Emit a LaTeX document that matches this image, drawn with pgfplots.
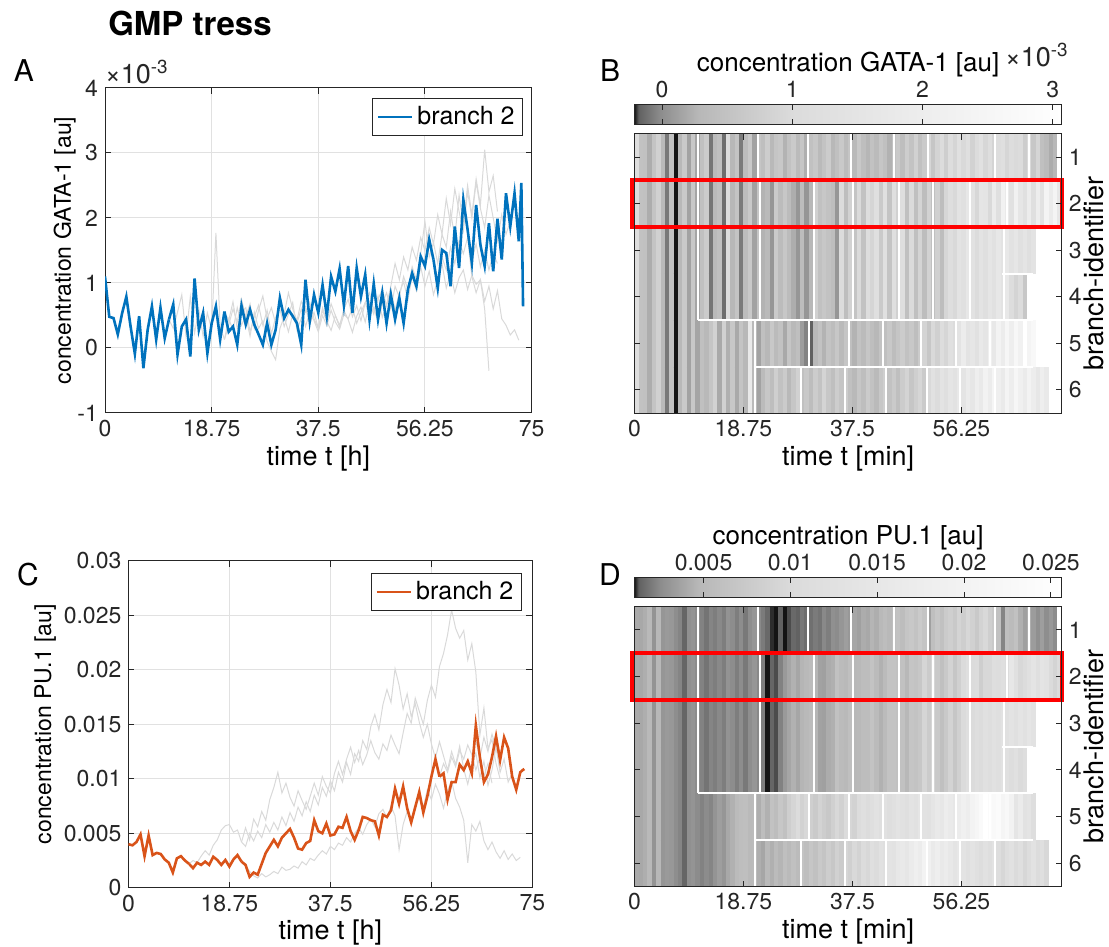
\documentclass[border=0pt]{standalone}
\usepackage{fontspec}
\setmainfont{TeX Gyre Heros}
\usepackage{pgfplots}
\usepackage{pgfplotstable}
\usetikzlibrary{calc}
\pgfplotsset{compat=1.18}

\definecolor{mblue}{RGB}{0,114,189}
\definecolor{morange}{RGB}{217,83,25}
\definecolor{axgray}{RGB}{38,38,38}
\definecolor{gridc}{RGB}{225,225,225}
\definecolor{lgray}{RGB}{217,217,217}

\newcommand{\tickfont}{\fontsize{11.5}{13}\selectfont}
\newcommand{\labfont}{\fontsize{13.5}{15}\selectfont}

% tree segments: t [h], g = GATA-1 (x1e-3), p = PU.1 (x1e-3)
\pgfplotstableread{
t g p
0.00 1.10 4.0
0.75 0.48 3.9
1.50 0.46 4.2
2.25 0.21 4.9
3.00 0.53 2.9
3.75 0.79 4.8
4.50 0.33 3.0
5.25 -0.09 3.2
6.00 0.49 3.1
6.75 -0.31 2.6
7.50 0.28 2.3
8.25 0.64 1.4
9.00 0.13 2.7
9.75 0.62 2.9
10.50 0.15 2.5
11.25 0.44 2.2
}\Szero
\pgfplotstableread{
t g p
11.25 0.44 2.2
12.00 0.67 1.8
12.75 -0.10 2.3
13.50 0.33 2.1
14.25 0.44 2.4
15.00 -0.13 2.1
15.75 1.07 2.85
16.50 0.28 2.55
17.25 0.54 2.1
18.00 -0.08 2.55
18.75 0.38 1.95
19.50 0.64 2.6
20.25 0.13 3.0
21.00 0.56 2.4
}\SA
\pgfplotstableread{
t g p
11.25 0.44 2.2
12.00 0.30 2.5
12.75 0.55 2.3
13.50 0.82 2.9
14.25 0.18 3.4
15.00 0.79 3.0
15.75 0.23 3.9
16.50 0.59 4.4
17.25 0.18 5.3
18.00 0.54 5.7
18.75 0.28 5.8
19.50 1.77 5.1
20.25 0.33 5.3
21.00 0.13 4.2
}\SB
\pgfplotstableread{
t g p
21.00 0.56 2.4
21.75 0.25 2.1
22.50 0.33 1.0
23.25 0.05 1.4
24.00 0.65 1.2
24.75 0.36 2.2
25.50 0.59 3.2
26.25 0.36 3.8
27.00 0.21 4.4
27.75 0.05 3.8
28.50 0.38 4.6
29.25 0.05 5.0
30.00 0.28 5.4
30.75 0.77 4.6
31.50 0.46 3.6
32.25 0.59 3.5
33.00 0.49 4.1
33.75 0.38 4.3
34.50 0.05 6.2
35.25 1.05 5.2
36.00 0.41 5.0
36.75 0.82 5.9
37.50 0.54 4.8
38.25 0.97 4.9
39.00 0.49 5.6
39.75 1.10 5.5
40.50 0.87 6.5
41.25 1.22 5.2
42.00 0.66 4.4
42.75 1.26 5.3
43.50 0.54 6.5
44.25 1.23 6.4
45.00 0.79 6.2
45.75 1.13 6.1
46.50 0.44 4.8
47.25 0.99 6.7
48.00 0.44 6.5
48.75 0.85 7.1
49.50 0.38 9.1
50.25 0.82 7.7
51.00 0.44 9.3
51.75 0.77 7.3
52.50 0.38 6.0
53.25 0.90 7.4
54.00 1.15 8.8
54.75 0.95 6.9
55.50 1.41 8.4
56.25 1.26 10.2
57.00 1.67 11.8
57.75 1.36 10.2
}\Sbcd
\pgfplotstableread{
t g p
57.75 1.36 10.2
58.50 0.92 10.5
59.25 1.51 8.1
60.00 1.46 9.7
60.75 0.95 9.7
61.50 1.87 11.3
62.25 1.23 10.8
63.00 2.28 11.6
63.75 1.82 10.5
64.50 1.31 14.9
65.25 2.20 12.0
66.00 1.59 9.7
66.75 1.26 10.4
67.50 1.92 12.0
68.25 1.18 13.9
69.00 1.99 11.7
69.75 1.36 13.8
70.50 2.38 12.8
71.25 1.87 10.2
72.00 2.38 9.0
72.75 1.64 10.6
73.20 2.54 10.8
73.50 0.64 10.9
}\Stwo
\pgfplotstableread{
t g p
57.75 1.36 10.2
58.50 1.05 11.4
59.25 1.40 10.6
60.00 1.20 12.0
60.75 1.55 11.1
61.50 1.30 12.6
62.25 1.65 11.8
63.00 1.45 13.1
63.75 1.70 12.2
}\Scd
\pgfplotstableread{
t g p
63.75 1.70 12.2
64.50 1.35 13.5
65.25 1.60 11.9
66.00 1.25 13.8
66.75 1.50 12.5
67.50 1.20 14.1
68.25 1.45 12.8
69.00 1.30 11.6
}\Sthree
\pgfplotstableread{
t g p
63.75 1.70 12.2
64.50 1.10 10.8
65.25 0.85 12.0
66.00 1.05 10.2
66.75 0.60 11.4
67.50 -0.35 9.6
}\Sfour
\pgfplotstableread{
t g p
21.00 0.56 2.4
21.75 0.42 2.0
22.50 0.71 1.5
23.25 0.30 1.1
24.00 0.55 0.9
24.75 0.62 1.3
25.50 0.25 1.0
26.25 0.48 1.2
27.00 0.66 1.5
27.75 0.35 1.3
28.50 0.58 1.9
29.25 0.22 1.6
30.00 0.47 1.7
30.75 0.60 2.0
31.50 0.33 1.8
32.25 0.52 2.4
33.00 0.70 2.1
33.75 0.28 2.7
34.50 0.45 2.5
35.25 0.63 3.0
36.00 0.37 3.4
36.75 0.55 3.1
37.50 0.30 3.8
38.25 0.62 3.5
39.00 0.41 4.1
39.75 0.27 3.9
40.50 0.50 4.6
41.25 0.35 4.2
42.00 0.58 5.0
42.75 0.44 5.5
43.50 0.24 4.9
44.25 0.49 5.8
45.00 0.63 6.3
45.75 0.40 5.6
46.50 0.71 6.8
47.25 0.52 7.2
48.00 0.80 6.4
48.75 0.47 7.5
49.50 0.66 6.6
50.25 0.90 3.5
51.00 0.58 5.8
51.75 0.85 7.0
52.50 1.02 6.2
53.25 0.74 7.6
54.00 1.10 8.2
54.75 0.88 7.4
55.50 1.25 9.0
56.25 0.95 8.1
57.00 1.18 9.5
57.75 0.82 8.6
58.50 1.05 7.3
59.25 1.30 8.9
60.00 0.92 9.8
60.75 1.15 8.2
61.50 0.85 7.4
62.25 1.08 6.2
63.00 1.20 2.3
63.75 0.90 5.8
64.50 1.12 5.2
65.25 0.98 6.1
66.00 1.05 4.3
66.75 0.72 3.5
67.50 0.95 4.2
68.25 0.60 3.3
69.00 0.88 2.7
69.75 0.45 3.4
70.50 0.35 2.6
71.25 0.20 3.1
72.00 0.28 2.5
72.75 0.12 2.8
}\Sone
\pgfplotstableread{
t g p
21.00 0.13 4.2
21.75 0.45 5.5
22.50 0.28 4.4
23.25 0.62 6.3
24.00 0.35 5.6
24.75 0.50 7.0
25.50 0.18 6.2
26.25 0.55 8.1
27.00 0.30 9.2
27.75 0.42 10.6
28.50 0.10 8.7
29.25 -0.05 9.6
30.00 -0.18 8.3
30.75 0.30 7.5
31.50 0.48 8.9
32.25 0.25 8.0
33.00 0.52 7.2
33.75 0.38 8.4
34.50 0.60 9.6
35.25 0.33 8.5
36.00 0.55 10.2
36.75 0.42 9.3
37.50 0.25 8.7
38.25 0.50 10.5
39.00 0.34 11.6
39.75 0.58 10.4
40.50 0.40 11.8
41.25 0.29 12.9
42.00 0.52 11.5
42.75 0.45 12.6
43.50 0.62 11.3
44.25 0.38 12.2
45.00 0.55 13.5
45.75 0.70 12.4
46.50 0.48 11.8
47.25 0.62 13.2
48.00 0.40 12.6
48.75 0.68 14.0
49.50 0.85 13.1
50.25 0.60 12.3
51.00 0.95 14.2
51.75 0.78 16.0
52.50 1.10 15.1
53.25 0.90 17.4
54.00 1.25 16.2
54.75 1.05 15.0
55.50 1.45 17.2
56.25 1.95 18.6
57.00 1.40 17.5
57.75 1.62 20.3
58.50 1.30 21.5
59.25 1.75 23.2
60.00 1.55 25.5
60.75 2.10 23.8
61.50 1.70 22.9
62.25 2.35 23.6
63.00 1.90 20.9
63.75 2.50 22.4
64.50 2.05 19.8
65.25 2.60 14.0
66.00 2.20 16.5
66.75 3.05 12.8
67.50 2.40 13.6
68.25 2.65 11.4
69.00 2.10 10.0
}\Sfive
\pgfplotstableread{
t g p
21.00 0.13 4.2
21.75 0.35 3.8
22.50 0.60 5.0
23.25 0.40 4.3
24.00 0.75 5.2
24.75 0.48 4.6
25.50 0.68 5.8
26.25 0.30 5.1
27.00 0.58 6.0
27.75 0.80 5.3
28.50 0.45 6.5
29.25 0.62 5.7
30.00 0.38 6.9
30.75 0.70 6.1
31.50 0.52 7.4
32.25 0.85 6.6
33.00 0.60 7.9
33.75 0.42 7.0
34.50 0.72 8.5
35.25 0.55 7.6
36.00 0.70 9.2
36.75 0.45 8.4
37.50 0.30 9.8
38.25 0.58 8.9
39.00 0.40 10.6
39.75 0.68 9.7
40.50 0.50 11.5
41.25 0.32 10.4
42.00 0.60 12.3
42.75 0.75 11.6
43.50 0.48 13.5
44.25 0.65 12.7
45.00 0.42 14.8
45.75 0.70 15.9
46.50 0.85 14.5
47.25 0.58 16.8
48.00 0.75 18.2
48.75 0.90 17.0
49.50 0.65 20.1
50.25 0.95 18.6
51.00 1.30 16.4
51.75 1.05 17.8
52.50 1.40 15.7
53.25 1.20 16.9
54.00 1.55 15.2
54.75 1.35 13.8
55.50 1.70 15.0
56.25 1.50 13.2
57.00 1.85 11.9
57.75 1.60 13.4
58.50 2.05 12.1
59.25 1.75 10.8
60.00 2.30 12.5
60.75 1.90 11.3
61.50 2.45 13.0
62.25 2.10 10.9
63.00 1.80 9.5
63.75 2.40 11.2
64.50 2.00 12.4
65.25 2.55 10.1
66.00 2.15 11.6
66.75 1.85 9.4
67.50 2.35 10.8
68.25 2.00 12.9
69.00 1.65 10.6
69.75 2.05 11.8
70.50 1.75 9.7
71.25 1.95 10.5
}\Ssix

\pgfplotsset{
  colormap={hmap}{gray(0mm)=(0.08); gray(1mm)=(0.38); gray(6mm)=(0.55); gray(15mm)=(0.72); gray(37mm)=(0.86); gray(67mm)=(0.93); gray(100mm)=(1)},
  base/.style={scale only axis, anchor=south west,
    axis line style={axgray, line width=0.5pt}, tick style={axgray, line width=0.5pt},
    tick align=inside, major tick length=3pt,
    ticklabel style={font=\tickfont, text=axgray},
    label style={font=\labfont, text=black},
    xlabel shift=-2.5pt,
    /pgf/number format/assume math mode=true},
  heat/.style={base, width=213.7pt, xmin=0, xmax=73.5, ymin=0.5, ymax=6.5, y dir=reverse,
    xtick={0,18.75,37.5,56.25}, xticklabels={0,18.75,37.5,56.25},
    ytick={1,2,3,4,5,6}, yticklabels={1,2,3,4,5,6}, yticklabel pos=right,
    xlabel={time t [min]}, ylabel={branch-identifier}, ylabel shift=-6pt,
    colormap name=hmap, axis on top, clip=false,
    colorbar horizontal,
    colorbar shift/.style={},
    colorbar style={at={($(parent axis.north west)+(0pt,4.8pt)$)}, anchor=south west,
      width=213.7pt, height=9.7pt, scale only axis, xticklabel pos=upper,
      tick align=inside, major tick length=2.5pt,
      axis line style={axgray, line width=0.5pt}, tick style={axgray, line width=0.5pt},
      ticklabel style={font=\tickfont, text=axgray},
      xlabel style={font=\fontsize{13}{15}\selectfont}, xlabel shift=-5pt,
      /pgf/number format/assume math mode=true}},
  line/.style={base, grid=major, grid style={gridc, line width=0.5pt}, xmin=0, xmax=75,
    xtick={0,18.75,37.5,56.25,75}, xticklabels={0,18.75,37.5,56.25,75},
    xlabel={time t [h]},
    legend style={font=\fontsize{12.5}{14}\selectfont, draw=axgray, line width=0.5pt, inner sep=2pt},
    legend cell align=left}
}

\newcommand{\hrow}[3]{\addplot[mesh, shader=flat corner, line width=23.4pt, point meta=explicit, forget plot] table[x=t, y expr=#2, meta=#3] {#1};}
\newcommand{\gline}[2]{\addplot[lgray, line width=0.5pt, forget plot] table[x=t, y=#2] {#1};}
\newcommand{\heatrows}[1]{%
  \hrow{\Szero}{1}{#1}\hrow{\Szero}{2}{#1}\hrow{\Szero}{3}{#1}\hrow{\Szero}{4}{#1}\hrow{\Szero}{5}{#1}\hrow{\Szero}{6}{#1}%
  \hrow{\SA}{1}{#1}\hrow{\SA}{2}{#1}\hrow{\SA}{3}{#1}\hrow{\SA}{4}{#1}%
  \hrow{\SB}{5}{#1}\hrow{\SB}{6}{#1}%
  \hrow{\Sone}{1}{#1}%
  \hrow{\Sbcd}{2}{#1}\hrow{\Sbcd}{3}{#1}\hrow{\Sbcd}{4}{#1}%
  \hrow{\Stwo}{2}{#1}%
  \hrow{\Scd}{3}{#1}\hrow{\Scd}{4}{#1}%
  \hrow{\Sthree}{3}{#1}\hrow{\Sfour}{4}{#1}%
  \hrow{\Sfive}{5}{#1}\hrow{\Ssix}{6}{#1}%
  \addplot[white, line width=1pt, unbounded coords=jump, forget plot] coordinates {
    (10.9,0.5)(10.9,4.5) (nan,nan)
    (21.3,0.5)(21.3,1.5) (nan,nan) (29.9,0.5)(29.9,1.5) (nan,nan) (37.2,0.5)(37.2,1.5) (nan,nan)
    (44.7,0.5)(44.7,1.5) (nan,nan) (50.5,0.5)(50.5,1.5) (nan,nan) (62.0,0.5)(62.0,1.5) (nan,nan)
    (67.8,0.5)(67.8,1.5) (nan,nan)
    (21.6,1.5)(21.6,4.5) (nan,nan) (30.8,1.5)(30.8,4.5) (nan,nan) (37.6,1.5)(37.6,4.5) (nan,nan)
    (45.5,1.5)(45.5,4.5) (nan,nan) (51.4,1.5)(51.4,4.5) (nan,nan) (57.7,1.5)(57.7,4.5) (nan,nan)
    (64.0,1.5)(64.0,2.5) (nan,nan) (63.6,2.5)(63.6,4.5) (nan,nan)
    (20.7,4.5)(20.7,6.5) (nan,nan) (30.0,4.5)(30.0,5.5) (nan,nan) (36.9,4.5)(36.9,5.5) (nan,nan)
    (42.7,4.5)(42.7,5.5) (nan,nan) (49.3,4.5)(49.3,5.5) (nan,nan) (55.3,4.5)(55.3,5.5) (nan,nan)
    (61.1,4.5)(61.1,5.5) (nan,nan)
    (28.7,5.5)(28.7,6.5) (nan,nan) (36.3,5.5)(36.3,6.5) (nan,nan) (43.3,5.5)(43.3,6.5) (nan,nan)
    (50.4,5.5)(50.4,6.5) (nan,nan) (56.0,5.5)(56.0,6.5) (nan,nan) (62.0,5.5)(62.0,6.5) (nan,nan)
    (10.9,4.5)(68.6,4.5) (nan,nan) (20.5,5.5)(68.6,5.5) (nan,nan) (21.2,1.5)(73.5,1.5) (nan,nan)
    (57.7,2.5)(73.5,2.5) (nan,nan) (63.2,3.5)(68.6,3.5)
  };
  \draw[red, line width=2pt] (axis cs:-0.45,1.5) rectangle (axis cs:73.5,2.5);
}

\begin{document}
\begin{tikzpicture}
\useasboundingbox (0,0) rectangle (554.5pt,473.5pt);

\node[font=\bfseries\fontsize{16.5}{18}\selectfont] at (95pt,462pt) {GMP tress};
\node[font=\fontsize{15}{17}\selectfont] at (12pt,438pt) {A};
\node[font=\fontsize{15}{17}\selectfont] at (305pt,438pt) {B};
\node[font=\fontsize{15}{17}\selectfont] at (14pt,186pt) {C};
\node[font=\fontsize{15}{17}\selectfont] at (305pt,186pt) {D};

% A
\begin{axis}[line, at={(52.5pt,267pt)}, width=213.3pt, height=162.5pt,
  ymin=-1, ymax=4, ytick={-1,0,1,2,3,4}, yticklabels={-1,0,1,2,3,4},
  ylabel={concentration GATA-1 [au]}, ylabel style={font=\fontsize{11.5}{13}\selectfont},
  ylabel shift=-6pt,
  legend style={at={(0.98,0.97)}, anchor=north east}]
\gline{\SB}{g}\gline{\Sone}{g}\gline{\Sfive}{g}\gline{\Ssix}{g}
\gline{\Scd}{g}\gline{\Sthree}{g}\gline{\Sfour}{g}
\addplot[mblue, line width=1.3pt, forget plot] table[x=t, y=g] {\Szero};
\addplot[mblue, line width=1.3pt, forget plot] table[x=t, y=g] {\SA};
\addplot[mblue, line width=1.3pt, forget plot] table[x=t, y=g] {\Sbcd};
\addplot[mblue, line width=1.3pt, forget plot] table[x=t, y=g] {\Stwo};
\addlegendimage{mblue, line width=1.3pt}
\addlegendentry{branch 2}
\end{axis}
\node[font=\fontsize{13.5}{15}\selectfont, text=axgray, anchor=south west] at (49pt,428pt) {×10\textsuperscript{-3}};

% B
\begin{axis}[heat, at={(317.2pt,266.9pt)}, height=139.7pt,
  point meta min=-0.213, point meta max=3.07,
  colorbar style={xtick={0,1,2,3}, xticklabels={0,1,2,3}, xlabel={concentration GATA-1 [au]}}]
\heatrows{g}
\end{axis}
\node[font=\fontsize{13.5}{15}\selectfont, text=axgray, anchor=west] at (499pt,446pt) {×10\textsuperscript{-3}};

% C
\begin{axis}[line, at={(64.2pt,29.6pt)}, width=202pt, height=163.5pt,
  ymin=0, ymax=30, ytick={0,5,10,15,20,25,30},
  yticklabels={0,0.005,0.01,0.015,0.02,0.025,0.03},
  ylabel={concentration PU.1 [au]}, ylabel style={font=\fontsize{11.5}{13}\selectfont},
  ylabel shift=-3pt,
  legend style={at={(0.974,0.963)}, anchor=north east}]
\gline{\SB}{p}\gline{\Sone}{p}\gline{\Sfive}{p}\gline{\Ssix}{p}
\gline{\Scd}{p}\gline{\Sthree}{p}\gline{\Sfour}{p}
\addplot[morange, line width=1.3pt, forget plot] table[x=t, y=p] {\Szero};
\addplot[morange, line width=1.3pt, forget plot] table[x=t, y=p] {\SA};
\addplot[morange, line width=1.3pt, forget plot] table[x=t, y=p] {\Sbcd};
\addplot[morange, line width=1.3pt, forget plot] table[x=t, y=p] {\Stwo};
\addlegendimage{morange, line width=1.3pt}
\addlegendentry{branch 2}
\end{axis}

% D
\begin{axis}[heat, at={(317.2pt,30.2pt)}, height=140pt,
  point meta min=1.02, point meta max=25.63,
  colorbar style={xtick={5,10,15,20,25}, xticklabels={0.005,0.01,0.015,0.02,0.025}, xlabel={concentration PU.1 [au]}}]
\heatrows{p}
\end{axis}
\end{tikzpicture}
\end{document}
